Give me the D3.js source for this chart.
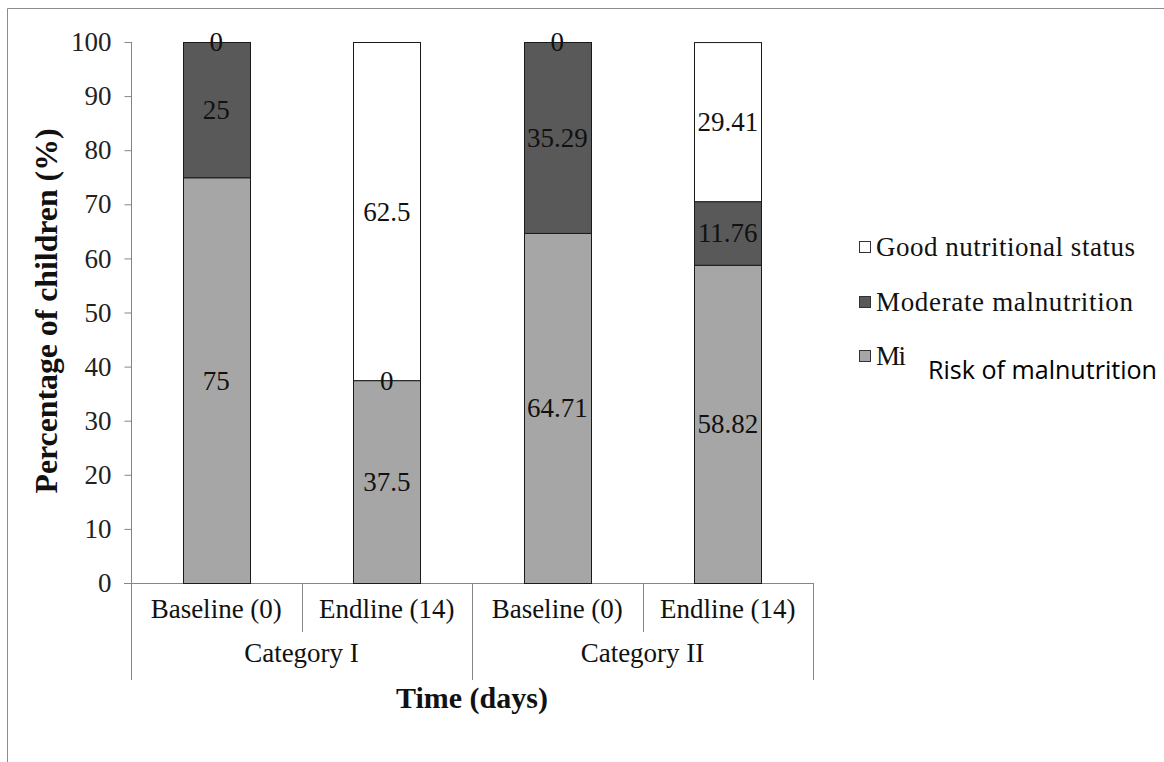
<!DOCTYPE html>
<html><head><meta charset="utf-8">
<script src="https://cdn.jsdelivr.net/npm/d3@7"></script>
<style>body{margin:0;background:#fff}svg{display:block}</style>
</head><body>
<svg id="c" width="1164" height="762"></svg>
<script>
const groups = ["Category I", "Category II"];
const times = ["Baseline (0)", "Endline (14)"];
const bars = ["Category I|Baseline (0)", "Category I|Endline (14)", "Category II|Baseline (0)", "Category II|Endline (14)"];
const seriesNames = ["Risk of malnutrition", "Moderate malnutrition", "Good nutritional status"];
const riskValues = [75, 37.5, 64.71, 58.82];
const moderateValues = [25, 0, 35.29, 11.76];
const goodValues = [0, 62.5, 0, 29.41];
const yTicks = [0,10,20,30,40,50,60,70,80,90,100];

const colors = {"Risk of malnutrition":"#a6a6a6","Moderate malnutrition":"#595959","Good nutritional status":"#ffffff"};
const serif = "'Liberation Serif','Times New Roman',serif";

const svg = d3.select("#c");
// outer frame
svg.append("line").attr("x1",7.5).attr("y1",8.5).attr("x2",1164).attr("y2",8.5).attr("stroke","#8c8c8c");
svg.append("line").attr("x1",7.5).attr("y1",8.5).attr("x2",7.5).attr("y2",762).attr("stroke","#8c8c8c");

const x0 = 131, x1 = 813, yTop = 42, yBot = 583;
const x = d3.scaleBand().domain(bars).range([x0, x1]).paddingInner(0).paddingOuter(0);
const y = d3.scaleLinear().domain([0,100]).range([yBot, yTop]);
const bw = 67;

const table = bars.map((b,i)=>({bar:b,"Risk of malnutrition":riskValues[i],"Moderate malnutrition":moderateValues[i],"Good nutritional status":goodValues[i]}));
const stack = d3.stack().keys(seriesNames)(table);

const FS = 27;
// axes
const axisColor = "#868686";
const yAxis = d3.axisLeft(y).tickValues(yTicks).tickSize(7).tickFormat(d3.format("d"));
const ga = svg.append("g").attr("transform",`translate(${x0+0.5},0)`).call(yAxis);
ga.select(".domain").attr("stroke",axisColor).attr("d",`M0,${yTop}V${yBot}`);
ga.selectAll(".tick line").attr("stroke",axisColor);
ga.selectAll(".tick text").attr("font-family",serif).attr("font-size",FS).attr("fill","#222").attr("x",-20);

// x axis line
svg.append("line").attr("x1",x0-7).attr("x2",x1).attr("y1",yBot+0.5).attr("y2",yBot+0.5).attr("stroke",axisColor);
svg.append("line").attr("x1",x0+0.5).attr("x2",x0+0.5).attr("y1",yBot).attr("y2",680).attr("stroke",axisColor);

// separators
bars.forEach((b,i)=>{
  const xe = x(b)+x.bandwidth();
  const outer = (i % 2 === 1);
  svg.append("line").attr("x1",Math.round(xe)+0.5).attr("x2",Math.round(xe)+0.5)
    .attr("y1",yBot).attr("y2",outer?680:632).attr("stroke",axisColor);
});

// bars
stack.forEach(s=>{
  svg.append("g").selectAll("rect").data(s).join("rect")
    .attr("x",d=>Math.round(x(d.data.bar)+x.bandwidth()/2-bw/2)+0.5)
    .attr("y",d=>y(d[1])+0.5)
    .attr("width",bw)
    .attr("height",d=>Math.max(0,y(d[0])-y(d[1])))
    .attr("fill",colors[s.key]).attr("stroke","#1a1a1a").attr("stroke-width",1);
});
// data labels
stack.forEach(s=>{
  svg.append("g").selectAll("text").data(s).join("text")
    .attr("x",d=>x(d.data.bar)+x.bandwidth()/2)
    .attr("y",d=>y((d[0]+d[1])/2))
    .attr("dy","0.35em").attr("text-anchor","middle")
    .attr("font-family",serif).attr("font-size",FS).attr("fill","#111")
    .text(d=>d.data[s.key]);
});

// category labels
bars.forEach(b=>{
  svg.append("text").attr("x",x(b)+x.bandwidth()/2).attr("y",609).attr("dy","0.35em")
    .attr("text-anchor","middle").attr("font-family",serif).attr("font-size",FS).attr("fill","#111")
    .text(b.split("|")[1]);
});
groups.forEach((g,gi)=>{
  const xs = bars.filter(b=>b.startsWith(g+"|"));
  const cx = (x(xs[0]) + x(xs[xs.length-1]) + x.bandwidth())/2;
  svg.append("text").attr("x",cx).attr("y",653).attr("dy","0.35em")
    .attr("text-anchor","middle").attr("font-family",serif).attr("font-size",FS).attr("fill","#111")
    .text(g);
});

// axis titles
svg.append("text").attr("x",(x0+x1)/2).attr("y",697).attr("dy","0.35em").attr("text-anchor","middle")
  .attr("font-family",serif).attr("font-size",30).attr("font-weight","bold").attr("fill","#111").text("Time (days)");
svg.append("text").attr("transform",`translate(46,311) rotate(-90)`).attr("dy","0.35em").attr("text-anchor","middle")
  .attr("font-family",serif).attr("font-size",31).attr("font-weight","bold").attr("fill","#111")
  .attr("textLength",365).attr("lengthAdjust","spacingAndGlyphs").text("Percentage of children (%)");

// legend
const legendItems = [
  {k:"Good nutritional status", y:247, label:"Good nutritional status", len:259},
  {k:"Moderate malnutrition", y:302, label:"Moderate malnutrition", len:257},
  {k:"Risk of malnutrition", y:356, label:"Mi", len:30}
];
legendItems.forEach(it=>{
  svg.append("rect").attr("x",859.5).attr("y",it.y-5.5).attr("width",11).attr("height",11)
    .attr("fill",colors[it.k]).attr("stroke","#333");
  svg.append("text").attr("x",876).attr("y",it.y).attr("dy","0.35em")
    .attr("font-family",serif).attr("font-size",FS).attr("fill","#111")
    .attr("textLength",it.len).attr("lengthAdjust","spacing").text(it.label);
});
svg.append("text").attr("x",928).attr("y",370).attr("dy","0.35em")
  .attr("font-family","'Open Sans','Noto Sans',sans-serif").attr("font-size",26).attr("fill","#000")
  .attr("textLength",229).attr("lengthAdjust","spacingAndGlyphs").text("Risk of malnutrition");
</script>
</body></html>
